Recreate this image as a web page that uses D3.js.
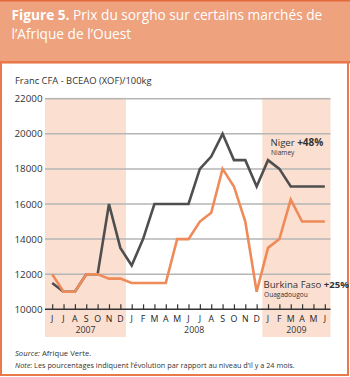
<!DOCTYPE html>
<html><head><meta charset="utf-8">
<script src="https://cdn.jsdelivr.net/npm/d3@7"></script>
<style>
html,body{margin:0;padding:0;background:#fff;}
svg{display:block;font-family:"Open Sans","Noto Sans",sans-serif;}
</style></head>
<body><svg id="c" width="350" height="377"></svg>
<script>
const months = ["J","J","A","S","O","N","D","J","F","M","A","M","J","J","A","S","O","N","D","J","F","M","A","M","J"];
const years = [{label:"2007", from:0, to:6, shaded:true},{label:"2008", from:7, to:18, shaded:false},{label:"2009", from:19, to:24, shaded:true}];
const niger = [11500,11000,11000,12000,12000,16000,13500,12500,14000,16000,16000,16000,16000,18000,18700,20000,18500,18500,17000,18500,18000,17000,17000,17000,17000];
const burkina = [12000,11000,11000,12000,12000,11750,11750,11500,11500,11500,11500,14000,14000,15000,15500,18000,17000,15000,11000,13500,14000,16250,15000,15000,15000];
const yTicks = [10000,12000,14000,16000,18000,20000,22000];

const svg = d3.select("#c");
const W = 350, H = 377;

// header
svg.append("rect").attr("x",0).attr("y",0).attr("width",W).attr("height",62).attr("fill","#eea27e");
svg.append("rect").attr("x",0).attr("y",0).attr("width",W).attr("height",1.5).attr("fill","#e5693a");
svg.append("rect").attr("x",0).attr("y",61).attr("width",W).attr("height",2.5).attr("fill","#e5693a");
// border
svg.append("rect").attr("x",1).attr("y",62).attr("width",347).attr("height",313).attr("fill","none").attr("stroke","#e9784a").attr("stroke-width",2);

const tb = svg.append("text").attr("x",11.5).attr("y",19.8).attr("fill","#fff").attr("font-size",13.7).attr("font-weight","bold").text("Figure 5.");
const tbw = tb.node().getComputedTextLength();
svg.append("text").attr("x",11.5+tbw+3.5).attr("y",19.8).attr("fill","#fff").attr("font-size",13.7).text("Prix du sorgho sur certains marchés de");
svg.append("text").attr("x",11.5).attr("y",38.6).attr("fill","#fff").attr("font-size",13.7).text("l’Afrique de l’Ouest");

svg.append("text").attr("x",15).attr("y",84).attr("font-size",9.4).attr("fill","#333").text("Franc CFA - BCEAO (XOF)/100kg");

const x = d3.scaleBand().domain(d3.range(months.length)).range([46.5,330.5]);
const xc = i => x(i) + x.bandwidth()/2;
const y = d3.scaleLinear().domain([10000,22000]).range([309.3,98.7]);

// shaded bands
years.filter(d=>d.shaded).forEach(d=>{
  const x0 = d.from===0 ? 45 : x(d.from);
  const x1 = x(d.to)+x.bandwidth();
  svg.append("rect").attr("x",x0).attr("y",y(22000)-1).attr("width",x1-x0).attr("height",337-(y(22000)-1)).attr("fill","#fbe0d1");
});

// gridlines
svg.append("g").selectAll("line").data(yTicks.filter(v=>v>10000)).join("line")
  .attr("x1",45).attr("x2",330.5).attr("y1",d=>y(d)).attr("y2",d=>y(d))
  .attr("stroke","#b5b5b5").attr("stroke-width",1.5);

// y labels
svg.append("g").selectAll("text").data(yTicks).join("text")
  .attr("x",42.5).attr("y",d=>y(d)+3.5).attr("text-anchor","end").attr("font-size",9.8).attr("fill","#333").text(d=>d);

// x axis
const xAxis = d3.axisBottom(d3.scalePoint().domain(d3.range(months.length)).range([xc(0),xc(24)])).tickSize(-5).tickFormat("");
const ga = svg.append("g").attr("transform",`translate(0,${y(10000)})`).call(xAxis);
ga.select(".domain").remove();
ga.selectAll(".tick line").attr("stroke","#333").attr("stroke-width",1.2);
svg.append("line").attr("x1",45).attr("x2",330.5).attr("y1",y(10000)).attr("y2",y(10000)).attr("stroke","#333").attr("stroke-width",1.5);

svg.append("g").selectAll("text").data(months).join("text")
  .attr("x",(d,i)=>xc(i)).attr("y",322).attr("text-anchor","middle").attr("font-size",8.8).attr("fill","#222").text(d=>d);
svg.append("g").selectAll("text").data(years).join("text")
  .attr("x",d=>{const a = d.from===0?45:x(d.from); const b = x(d.to)+x.bandwidth(); return (a+b)/2;})
  .attr("y",333).attr("text-anchor","middle").attr("font-size",8.8).attr("fill","#333").text(d=>d.label);

// lines
const line = d3.line().x((d,i)=>xc(i)).y(d=>y(d));
svg.append("path").datum(niger).attr("d",line).attr("fill","none").attr("stroke","#4f4f4f").attr("stroke-width",2.6).attr("stroke-linejoin","miter");
svg.append("path").datum(burkina).attr("d",line).attr("fill","none").attr("stroke","#ee8b58").attr("stroke-width",2.6).attr("stroke-linejoin","miter");

// labels
const nl = svg.append("text").attr("x",270.5).attr("y",146).attr("font-size",9.6).attr("fill","#333");
nl.append("tspan").text("Niger ");
nl.append("tspan").attr("font-weight","bold").attr("font-size",10).text("+48%");
svg.append("text").attr("x",271).attr("y",154.5).attr("font-size",6.6).attr("fill","#333").text("Niamey");
const bl = svg.append("text").attr("x",263.5).attr("y",288).attr("font-size",9.6).attr("fill","#333");
bl.append("tspan").text("Burkina Faso ");
bl.append("tspan").attr("font-weight","bold").text("+25%");
svg.append("text").attr("x",264).attr("y",296.5).attr("font-size",6.6).attr("fill","#333").text("Ouagadougou");

// source/note
const s = svg.append("text").attr("x",15).attr("y",356).attr("font-size",7.7).attr("fill","#333");
s.append("tspan").attr("font-style","italic").text("Source:");
s.append("tspan").text(" Afrique Verte.");
const n = svg.append("text").attr("x",15).attr("y",367.5).attr("font-size",7.3).attr("fill","#333");
n.append("tspan").attr("font-style","italic").text("Note");
n.append("tspan").text(": Les pourcentages indiquent l’évolution par rapport au niveau d’il y a 24 mois.");
</script></body></html>
